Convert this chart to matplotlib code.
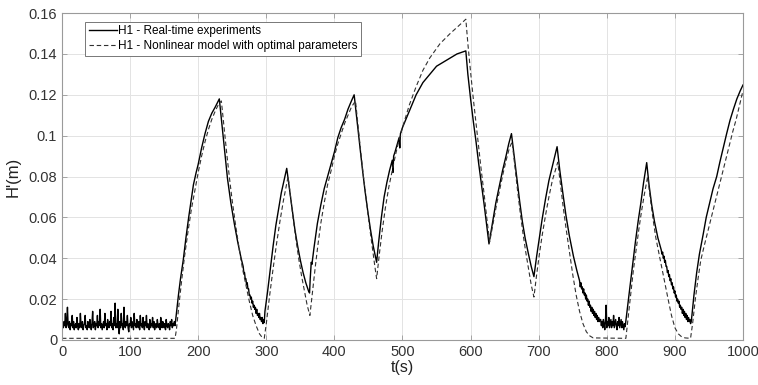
import matplotlib
matplotlib.use("Agg")
import matplotlib.pyplot as plt
import matplotlib.ticker as mticker
import numpy as np

plt.rcParams["font.family"] = ["Liberation Sans", "DejaVu Sans"]

# ---- real-time experiment (solid) ----
# noisy stretches sampled every 1 s, given as (start time, values)
real_noise_start_t0 = 0
real_noise_start = [
    0.004, 0.008, 0.006, 0.009, 0.007, 0.013, 0.006, 0.008, 0.016, 0.007,
    0.006, 0.009, 0.005, 0.008, 0.007, 0.012, 0.006, 0.009, 0.005, 0.007,
    0.008, 0.006, 0.011, 0.007, 0.005, 0.008, 0.006, 0.013, 0.007, 0.006,
    0.009, 0.005, 0.007, 0.008, 0.012, 0.006, 0.007, 0.005, 0.009, 0.007,
    0.006, 0.010, 0.007, 0.005, 0.008, 0.014, 0.006, 0.007, 0.009, 0.005,
    0.008, 0.007, 0.012, 0.006, 0.009, 0.007, 0.015, 0.006, 0.008, 0.005,
    0.007, 0.009, 0.006, 0.013, 0.007, 0.008, 0.005, 0.010, 0.007, 0.006,
    0.009, 0.007, 0.014, 0.006, 0.008, 0.005, 0.011, 0.007, 0.018, 0.006,
    0.008, 0.006, 0.015, 0.007, 0.003, 0.009, 0.006, 0.013, 0.007, 0.008,
    0.005, 0.016, 0.007, 0.006, 0.009, 0.007, 0.012, 0.006, 0.004, 0.008,
    0.007, 0.011, 0.006, 0.009, 0.007, 0.005, 0.013, 0.007, 0.008, 0.006,
    0.010, 0.007, 0.006, 0.009, 0.005, 0.012, 0.007, 0.008, 0.006, 0.011,
    0.007, 0.005, 0.009, 0.007, 0.012, 0.006, 0.008, 0.007, 0.005, 0.010,
    0.006, 0.008, 0.007, 0.011, 0.006, 0.009, 0.005, 0.007, 0.008, 0.006,
    0.010, 0.007, 0.006, 0.008, 0.005, 0.011, 0.007, 0.006, 0.009, 0.007,
    0.006, 0.008, 0.005, 0.010, 0.007, 0.006, 0.008, 0.007, 0.005, 0.009,
    0.007, 0.010, 0.006, 0.008, 0.007, 0.009, 0.007,
]
real_noise_drain1_t0 = 266
real_noise_drain1 = [
    0.036, 0.033, 0.033, 0.030, 0.030, 0.027, 0.028, 0.025, 0.025, 0.022,
    0.022, 0.020, 0.021, 0.018, 0.019, 0.016, 0.017, 0.015, 0.016, 0.013,
    0.015, 0.012, 0.013, 0.011, 0.013, 0.010, 0.011, 0.009, 0.011, 0.008,
    0.010, 0.0085, 0.014,
]
real_noise_drain2_t0 = 760
real_noise_drain2 = [
    0.029, 0.026, 0.028, 0.025, 0.026, 0.023, 0.025, 0.022, 0.023, 0.020,
    0.022, 0.019, 0.020, 0.017, 0.019, 0.016, 0.017, 0.014, 0.016, 0.013,
    0.015, 0.012, 0.014, 0.011, 0.013, 0.010, 0.012, 0.009, 0.011, 0.009,
    0.010, 0.010, 0.007, 0.009, 0.006, 0.010, 0.008, 0.005, 0.009, 0.017,
    0.006, 0.009, 0.007, 0.011, 0.006, 0.008, 0.010, 0.006, 0.009, 0.007,
    0.012, 0.006, 0.008, 0.010, 0.007, 0.005, 0.009, 0.007, 0.011, 0.006,
    0.008, 0.010, 0.006, 0.009, 0.007, 0.005, 0.008, 0.0065,
]
real_noise_drain3_t0 = 880
real_noise_drain3 = [
    0.044, 0.042, 0.043, 0.040, 0.041, 0.038, 0.039, 0.036, 0.036, 0.033,
    0.034, 0.031, 0.032, 0.029, 0.030, 0.027, 0.028, 0.025, 0.026, 0.023,
    0.024, 0.021, 0.022, 0.019, 0.020, 0.018, 0.019, 0.016, 0.017, 0.015,
    0.016, 0.013, 0.015, 0.012, 0.014, 0.011, 0.013, 0.010, 0.012, 0.009,
    0.011, 0.009, 0.010, 0.008, 0.009,
]
# smooth stretches as (t, h) knots
real_knot_t = [
    168, 171, 174, 178, 182, 186, 190, 193, 197, 200, 205, 210, 215, 220, 225, 231,
    235, 239, 243, 248, 253, 258, 263,
    302, 306, 310, 314, 318, 322, 326, 330,
    334, 338, 342, 346, 350, 354, 358, 362, 363.5, 364.5, 366, 367,
    370, 375, 380, 385, 390, 395, 400, 405, 410, 415, 420, 425, 429,
    433, 437, 441, 445, 449, 453, 457, 462,
    465, 469, 473, 477, 481, 485, 486, 487, 489, 495, 496, 497, 500, 505, 510,
    515, 520, 525, 530, 540, 550, 560, 570, 580, 593,
    596, 600, 604, 608, 612, 616, 620, 624, 627,
    632, 637, 642, 647, 652, 656, 660,
    664, 668, 672, 676, 680, 685, 689, 693,
    697, 701, 705, 710, 715, 720, 727,
    731, 735, 740, 745, 751, 756,
    830, 834, 838, 842, 846, 850, 854, 858.6,
    862, 866, 870, 875,
    925, 928, 932, 936, 941.7, 946, 951, 956, 961.4, 966, 971, 976, 981,
    986, 991, 996, 1000,
]
real_knot_h = [
    0.013, 0.022, 0.030, 0.039, 0.050, 0.060, 0.069, 0.076, 0.082, 0.086, 0.094, 0.101, 0.107, 0.111, 0.114, 0.118,
    0.105, 0.092, 0.079, 0.067, 0.057, 0.048, 0.040,
    0.024, 0.035, 0.046, 0.056, 0.064, 0.072, 0.078, 0.084,
    0.074, 0.064, 0.054, 0.046, 0.039, 0.033, 0.028, 0.024, 0.023, 0.030, 0.038, 0.037,
    0.045, 0.057, 0.066, 0.074, 0.080, 0.086, 0.092, 0.099, 0.104, 0.108, 0.113, 0.117, 0.120,
    0.108, 0.096, 0.084, 0.073, 0.063, 0.054, 0.046, 0.038,
    0.048, 0.060, 0.070, 0.077, 0.083, 0.088, 0.082, 0.090, 0.092, 0.099, 0.094, 0.101, 0.104, 0.108, 0.112,
    0.116, 0.120, 0.123, 0.126, 0.130, 0.134, 0.136, 0.138, 0.140, 0.1415,
    0.130, 0.118, 0.107, 0.097, 0.086, 0.076, 0.066, 0.055, 0.047,
    0.057, 0.067, 0.075, 0.083, 0.090, 0.096, 0.101,
    0.090, 0.079, 0.068, 0.058, 0.050, 0.042, 0.036, 0.031,
    0.041, 0.050, 0.059, 0.069, 0.078, 0.085, 0.0946,
    0.083, 0.073, 0.061, 0.051, 0.041, 0.034,
    0.015, 0.026, 0.037, 0.048, 0.058, 0.067, 0.077, 0.0868,
    0.076, 0.066, 0.058, 0.050,
    0.012, 0.022, 0.033, 0.042, 0.052, 0.060, 0.067, 0.074, 0.080, 0.087, 0.094, 0.101, 0.1076,
    0.113, 0.118, 0.122, 0.1248,
]

# ---- nonlinear model with optimal parameters (dashed) ----
model_t = [
    0, 166, 168, 172, 176, 180, 185, 190, 195, 200, 205, 210, 215, 220, 225, 230, 234,
    238, 242, 246, 250, 255, 260, 265, 270, 275, 280, 285, 290, 294, 297,
    300, 305, 310, 315, 320, 325, 329, 332,
    336, 340, 344, 348, 352, 356, 360, 364,
    368, 372, 376, 380, 385, 390, 396, 400, 405, 410, 415, 420, 425, 431,
    435, 439, 443, 447, 451, 455, 459, 462,
    466, 470, 475, 480, 485, 490, 495, 500, 510, 520, 530, 540, 555, 570, 580, 593,
    596, 600, 604, 608, 612, 616, 620, 624, 628,
    633, 638, 643, 648, 653, 657, 661,
    665, 669, 673, 677, 681, 685, 689, 693,
    697, 701, 705, 710, 715, 720, 728,
    732, 736, 740, 746, 750, 755, 760, 765, 770, 775, 780, 828,
    831, 835, 839, 843, 847, 851, 855, 860,
    864, 868, 872, 878, 884, 890, 895, 900, 905, 910, 915, 923,
    926, 930, 934, 938, 943, 949, 955, 961, 967, 973, 979, 985, 990, 995, 1000,
]
model_h = [
    0.0008, 0.0008, 0.005, 0.018, 0.030, 0.041, 0.053, 0.064, 0.073, 0.082, 0.090, 0.097, 0.103, 0.108, 0.112, 0.1155, 0.117,
    0.104, 0.091, 0.079, 0.068, 0.056, 0.045, 0.035, 0.027, 0.019, 0.012, 0.007, 0.003, 0.0012, 0.0008,
    0.008, 0.022, 0.035, 0.047, 0.058, 0.068, 0.075, 0.080,
    0.069, 0.058, 0.048, 0.039, 0.031, 0.024, 0.017, 0.012,
    0.024, 0.036, 0.047, 0.057, 0.067, 0.076, 0.084, 0.090, 0.096, 0.101, 0.106, 0.110, 0.114, 0.117,
    0.104, 0.091, 0.079, 0.068, 0.057, 0.047, 0.037, 0.030,
    0.042, 0.053, 0.065, 0.075, 0.083, 0.091, 0.098, 0.104, 0.115, 0.124, 0.132, 0.138, 0.145, 0.150, 0.153, 0.157,
    0.145, 0.131, 0.118, 0.106, 0.094, 0.082, 0.071, 0.059, 0.048,
    0.057, 0.066, 0.074, 0.082, 0.089, 0.094, 0.097,
    0.085, 0.073, 0.062, 0.052, 0.043, 0.035, 0.027, 0.021,
    0.032, 0.042, 0.051, 0.061, 0.070, 0.078, 0.087,
    0.076, 0.065, 0.055, 0.041, 0.032, 0.022, 0.014, 0.008, 0.004, 0.002, 0.001, 0.0008,
    0.010, 0.022, 0.034, 0.044, 0.054, 0.063, 0.071, 0.080,
    0.069, 0.059, 0.050, 0.040, 0.030, 0.020, 0.012, 0.006, 0.003, 0.0015, 0.001, 0.0008,
    0.008, 0.020, 0.030, 0.039, 0.046, 0.054, 0.062, 0.070, 0.078, 0.086, 0.094, 0.102, 0.108, 0.115, 0.122,
]

x_ticks = np.arange(0, 1001, 100)
y_ticks = np.arange(0, 0.161, 0.02)

# assemble the solid series in time order
pieces_t = [np.asarray(real_knot_t, float)]
pieces_h = [np.asarray(real_knot_h, float)]
for t0, vals in [(real_noise_start_t0, real_noise_start),
                 (real_noise_drain1_t0, real_noise_drain1),
                 (real_noise_drain2_t0, real_noise_drain2),
                 (real_noise_drain3_t0, real_noise_drain3)]:
    pieces_t.append(t0 + np.arange(len(vals), dtype=float))
    pieces_h.append(np.asarray(vals, float))
real_t = np.concatenate(pieces_t)
real_h = np.concatenate(pieces_h)
order = np.argsort(real_t, kind="stable")
real_t, real_h = real_t[order], real_h[order]

fig = plt.figure(figsize=(7.58, 3.85), dpi=100)
ax = fig.add_axes([0.0818, 0.117, 0.8984, 0.849])

ax.plot(real_t, real_h, color="black", linewidth=1.0, label="H1 - Real-time experiments")
ax.plot(model_t, model_h, color="#303030", linewidth=0.8, linestyle=(0, (4, 2.5)),
        label="H1 - Nonlinear model with optimal parameters")

ax.set_xlim(0, 1000)
ax.set_ylim(0, 0.16)
ax.set_xticks(x_ticks)
ax.set_yticks(y_ticks)
ax.yaxis.set_major_formatter(mticker.FuncFormatter(lambda v, _: f"{v:.2f}".rstrip("0").rstrip(".")))
ax.grid(True, color="#e3e3e3", linewidth=0.7)
ax.set_axisbelow(True)
ax.tick_params(direction="in", length=3.5, width=0.6, top=True, right=True,
               labelsize=10.5, colors="#9a9a9a", labelcolor="#333333")
for s in ax.spines.values():
    s.set_color("#9a9a9a")
    s.set_linewidth(0.8)

ax.set_xlabel("t(s)", fontsize=11.5, color="#222222", labelpad=1)
ax.set_ylabel("H'(m)", fontsize=12, color="#222222", labelpad=6)

leg = ax.legend(loc="upper left", bbox_to_anchor=(0.034, 0.973), fontsize=8.5, fancybox=False,
                framealpha=1, edgecolor="#777777", handlelength=2.4, handletextpad=0.1,
                borderpad=0.3, labelspacing=0.25, borderaxespad=0)
leg.get_frame().set_linewidth(0.7)

fig.savefig("out.png", dpi=100)
